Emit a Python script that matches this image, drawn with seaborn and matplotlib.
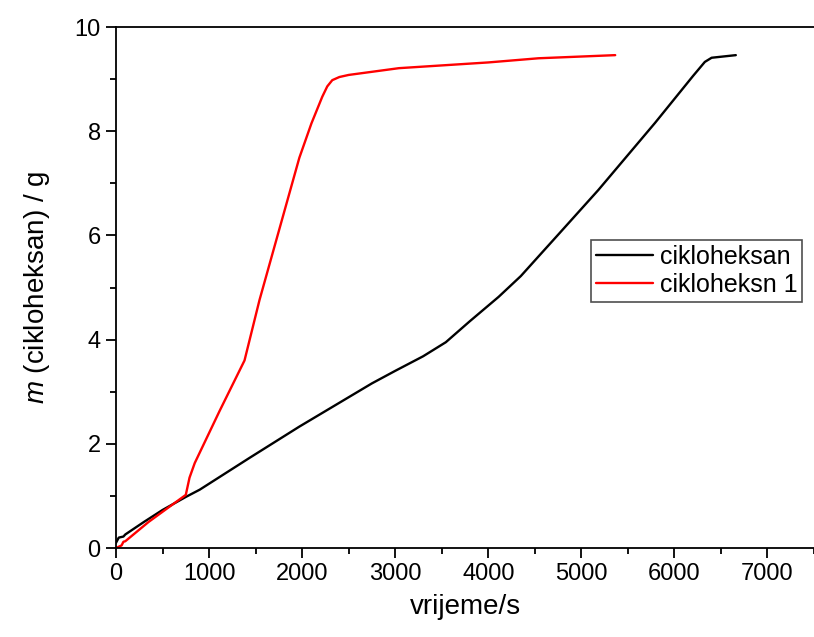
import pandas as pd
import seaborn as sns
from matplotlib import pyplot as plt
from matplotlib.ticker import MultipleLocator

# cikloheksan (black)
t_black = [0, 30, 80, 100, 300, 500, 750, 900, 1435, 1970, 2750, 3000, 3300,
           3544, 3800, 4111, 4350, 4572, 4754, 5182, 5792, 6200, 6327, 6400, 6660]
m_black = [0.1, 0.2, 0.22, 0.26, 0.5, 0.73, 0.98, 1.12, 1.73, 2.33, 3.16, 3.4, 3.68,
           3.95, 4.35, 4.82, 5.22, 5.66, 6.02, 6.87, 8.16, 9.06, 9.33, 9.41, 9.46]

# cikloheksn 1 (red)
t_red = [0, 60, 80, 100, 350, 750, 790, 846, 1113, 1381, 1542, 1970, 2100, 2216,
         2270, 2324, 2400, 2500, 3040, 4000, 4540, 5364]
m_red = [0.0, 0.05, 0.12, 0.13, 0.5, 1.02, 1.35, 1.63, 2.63, 3.6, 4.76, 7.49, 8.15, 8.66,
         8.86, 8.98, 9.04, 9.08, 9.21, 9.32, 9.40, 9.46]

labels = ['cikloheksan', 'cikloheksn 1']
colors = ['black', 'red']

df = pd.concat([
    pd.DataFrame({'t': t_black, 'm': m_black, 'serija': labels[0]}),
    pd.DataFrame({'t': t_red, 'm': m_red, 'serija': labels[1]}),
])

sns.set_style('ticks')
plt.rcParams['font.family'] = ['Liberation Sans', 'DejaVu Sans']
plt.rcParams['mathtext.fontset'] = 'custom'
plt.rcParams['mathtext.it'] = 'Liberation Sans:italic'
plt.rcParams['mathtext.rm'] = 'Liberation Sans'
plt.rcParams['text.color'] = 'black'
plt.rcParams['axes.labelcolor'] = 'black'
plt.rcParams['xtick.color'] = 'black'
plt.rcParams['ytick.color'] = 'black'
plt.rcParams['axes.edgecolor'] = 'black'

fig = plt.figure(figsize=(8.14, 6.37), dpi=100)
ax = fig.add_axes([0.1425, 0.1397, 0.8575, 0.8179])

sns.lineplot(data=df, x='t', y='m', hue='serija', palette=colors,
             estimator=None, sort=False, linewidth=1.7, ax=ax)

ax.set_xlim(0, 7500)
ax.set_ylim(0, 10)
ax.xaxis.set_major_locator(MultipleLocator(1000))
ax.xaxis.set_minor_locator(MultipleLocator(500))
ax.yaxis.set_major_locator(MultipleLocator(2))
ax.yaxis.set_minor_locator(MultipleLocator(1))
ax.tick_params(which='major', length=7, width=1.3, labelsize=17, pad=4,
               direction='out')
ax.tick_params(which='minor', length=4.5, width=1.3, direction='out')

for side in ['left', 'bottom', 'top']:
    ax.spines[side].set_linewidth(1.3)
ax.spines['right'].set_visible(False)

ax.set_xlabel('vrijeme/s', fontsize=20, labelpad=6)
ax.set_ylabel(r'$m$ (cikloheksan) / g', fontsize=20, labelpad=16)

leg = ax.legend(loc='upper right', bbox_to_anchor=(0.983, 0.591),
                fontsize=18, frameon=True, fancybox=False, title=None,
                handlelength=2.3, handletextpad=0.25, labelspacing=0.15,
                borderpad=0.2, borderaxespad=0)
leg.get_frame().set_edgecolor('#222222')
leg.get_frame().set_linewidth(1.2)

fig.savefig('out.png', dpi=100)
